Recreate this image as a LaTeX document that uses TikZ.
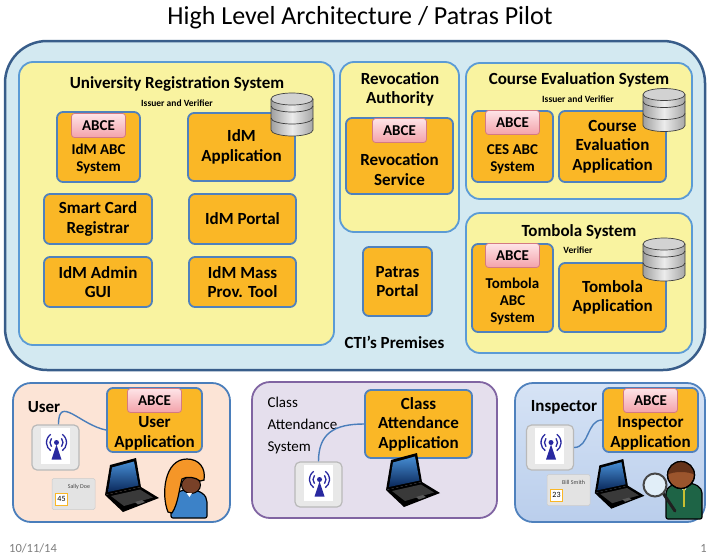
\documentclass[tikz,border=0pt]{standalone}
\usepackage{fontspec}
\setmainfont{Carlito}
\usetikzlibrary{positioning, calc}

\definecolor{ctifill}{RGB}{211,233,241}
\definecolor{ctiline}{RGB}{56,93,138}
\definecolor{sysfill}{RGB}{249,243,160}
\definecolor{sysline}{RGB}{91,155,213}
\definecolor{compfill}{RGB}{250,183,38}
\definecolor{compline}{RGB}{79,129,189}
\definecolor{abcetop}{RGB}{254,228,231}
\definecolor{abcebot}{RGB}{243,162,170}
\definecolor{abceline}{RGB}{212,122,130}
\definecolor{userfill}{RGB}{252,228,214}
\definecolor{classfill}{RGB}{229,223,237}
\definecolor{classline}{RGB}{128,100,162}
\definecolor{insptop}{RGB}{214,227,245}
\definecolor{inspbot}{RGB}{186,206,236}
\definecolor{wire}{RGB}{74,126,187}
\definecolor{signal}{RGB}{40,40,160}
\definecolor{footgray}{RGB}{125,125,125}
\definecolor{laptopsky}{RGB}{70,140,210}
\definecolor{laptopdeep}{RGB}{10,40,90}
\definecolor{hairorange}{RGB}{245,150,40}
\definecolor{skin}{RGB}{120,65,40}
\definecolor{manskin}{RGB}{155,85,45}
\definecolor{manhair}{RGB}{100,50,25}
\definecolor{suit}{RGB}{30,100,70}
\definecolor{shirtblue}{RGB}{60,130,200}
\definecolor{lens}{RGB}{225,238,248}

\tikzset{
  premises/.style={draw=ctiline, line width=2.5pt, fill=ctifill, rounded corners=42pt},
  sysbox/.style={draw=sysline, line width=1.8pt, fill=sysfill, rounded corners=14pt},
  comp/.style={draw=compline, line width=1.8pt, fill=compfill, rounded corners=6pt, inner sep=0pt,
    font=\bfseries\fontsize{17}{19.5}\selectfont, align=center},
  abctext/.style={font=\bfseries\fontsize{15}{17}\selectfont, align=center},
  abce/.style={draw=abceline, line width=0.8pt, top color=abcetop, bottom color=abcebot,
    rounded corners=3pt, minimum width=54pt, minimum height=24pt, inner sep=0pt,
    font=\bfseries\fontsize{15}{15}\selectfont, anchor=north},
  systitle/.style={font=\bfseries\fontsize{17}{19}\selectfont, align=center},
  role/.style={font=\bfseries\fontsize{9.5}{10}\selectfont},
  panel/.style={line width=1.8pt, rounded corners=18pt},
  readerbox/.style={draw=gray!55, line width=1.2pt, fill=gray!18, rounded corners=5pt,
    minimum width=47pt, minimum height=45pt},
  cardbox/.style={draw=gray!40, fill=gray!22, rounded corners=1.5pt, line width=0.5pt,
    minimum width=43pt, minimum height=31pt},
  numbox/.style={draw=compfill, fill=white, line width=0.8pt, minimum size=12pt, inner sep=0pt,
    font=\fontsize{8}{8}\selectfont},
  wirestyle/.style={draw=wire, line width=1.4pt}
}

% stack of three discs, #1 = centre of the lid
\newcommand{\dbstack}[1]{%
  \begin{scope}[shift={(#1)}]
    \path[left color=gray!75, right color=gray!70, middle color=gray!15]
      (-21,0) -- (-21,31) arc[start angle=180, end angle=0, x radius=21, y radius=6] -- (21,0) -- cycle;
    \draw[gray!45!black, line width=0.7pt] (-21,7) arc[start angle=180, end angle=0, x radius=21, y radius=6];
    \draw[gray!45!black, line width=0.7pt] (-21,19) arc[start angle=180, end angle=0, x radius=21, y radius=6];
    \draw[gray!50!black, line width=0.7pt]
      (-21,0) -- (-21,31) arc[start angle=180, end angle=0, x radius=21, y radius=6] -- (21,0);
    \draw[fill=gray!35, draw=gray!50!black, line width=0.7pt] (0,0) ellipse [x radius=21, y radius=6];
  \end{scope}}

% reader with the broadcast sign, #1 = name, #2 = centre
\newcommand{\cardreader}[2]{%
  \node[readerbox] (#1) at (#2) {};
  \fill[white] ($(#1.center)+(-15,-20)$) rectangle ($(#1.center)+(14,16)$);
  \fill[signal] ($(#1.center)+(1,-3)$) -- ($(#1.center)+(-4,12)$) -- ($(#1.center)+(6,12)$) -- cycle;
  \fill[signal] ($(#1.center)+(1,-5)$) circle (2.5);
  \draw[signal, line width=1.3pt] ($(#1.center)+(1,-5)$) ++(-140:6.5) arc[start angle=-140, end angle=-220, radius=6.5];
  \draw[signal, line width=1.3pt] ($(#1.center)+(1,-5)$) ++(-40:6.5) arc[start angle=-40, end angle=40, radius=6.5];
  \draw[signal, line width=1.3pt] ($(#1.center)+(1,-5)$) ++(-125:10) arc[start angle=-125, end angle=-235, radius=10];
  \draw[signal, line width=1.3pt] ($(#1.center)+(1,-5)$) ++(-55:10) arc[start angle=-55, end angle=55, radius=10];
}

% holder card, #1 = name, #2 = centre, #3 = holder, #4 = number
\newcommand{\holdercard}[4]{%
  \node[cardbox] (#1) at (#2) {};
  \node[font=\fontsize{6}{6}\selectfont, text=gray!55!black, anchor=north east, inner sep=0pt]
    at ($(#1.north east)+(-5,6)$) {#3};
  \node[numbox] at ($(#1.center)+(-12,5)$) {#4};
}

% laptop, #1 = scale, #2 = top left corner
\newcommand{\laptop}[2][1]{%
  \begin{scope}[shift={(#2)}, scale=#1]
    \fill[black] (3,37) -- (39,29) -- (57,40) -- (21,54) -- cycle;
    \fill[gray!45!black] (9,38) -- (38,31.5) -- (51,39.5) -- (22,48) -- cycle;
    \fill[gray!70!black] (33,44) -- (40,42) -- (43,44) -- (36,46.5) -- cycle;
    \fill[black] (8,7) -- (34,0) -- (39,29) -- (3,37) -- cycle;
    \path[top color=laptopsky, bottom color=laptopdeep] (10,9.5) -- (32,3.5) -- (36.5,27.5) -- (6,34) -- cycle;
  \end{scope}}

\begin{document}
\begin{tikzpicture}[x=1pt, y=-1pt]
\useasboundingbox (0,0) rectangle (708,557);

\node[font=\fontsize{26}{28}\selectfont] (title) at (360,18) {High Level Architecture / Patras Pilot};

% CTI's premises
\node[premises, minimum width=700pt, minimum height=329pt] (cti) at (355,205.5) {};
\node[systitle] (ctilabel) at (394.5,342) {CTI’s Premises};

% university registration system
\node[sysbox, minimum width=315pt, minimum height=283pt] (urs) at (176.5,203.5) {};
\node[systitle] (urstitle) at (177,84) {University Registration System};
\node[role] (ursrole) at (177,103) {Issuer and Verifier};
\node[comp, minimum width=83pt, minimum height=70pt] (idmabc) at (98.5,147) {};
\node[abce] (idmabce) at ([yshift=-2pt]idmabc.north) {ABCE};
\node[abctext] (idmabctxt) at ([yshift=-11.5pt]idmabc.center) {IdM ABC\\System};
\node[comp, minimum width=107pt, minimum height=68pt] (idmapp) at (241.5,147) {IdM\\Application};
\dbstack{292,99}
\node[comp, minimum width=108pt, minimum height=50pt] (scr) at (98,219) {Smart Card\\Registrar};
\node[comp, minimum width=107pt, minimum height=50pt] (idmportal) at (242.5,219) {IdM Portal};
\node[comp, minimum width=108pt, minimum height=50pt] (idmadmin) at (98,282) {IdM Admin\\GUI};
\node[comp, minimum width=107pt, minimum height=50pt] (idmmass) at (242.5,282) {IdM Mass\\Prov. Tool};

% revocation authority
\node[sysbox, minimum width=119pt, minimum height=170pt] (ra) at (399.5,147) {};
\node[systitle] (ratitle) at (400,89.5) {Revocation\\Authority};
\node[comp, minimum width=107pt, minimum height=76pt] (revserv) at (399.5,156) {};
\node[abce] (revabce) at ([yshift=-1pt]revserv.north) {ABCE};
\node[comp, draw=none, fill=none] (revtxt) at ([yshift=-13.5pt]revserv.center) {Revocation\\Service};

\node[comp, minimum width=69pt, minimum height=69pt] (patras) at (397.5,281.5) {Patras\\Portal};

% course evaluation system
\node[sysbox, minimum width=226pt, minimum height=136pt] (ces) at (579,131) {};
\node[systitle] (cestitle) at (579,80) {Course Evaluation System};
\node[role] (cesrole) at (578,99) {Issuer and Verifier};
\node[comp, minimum width=81pt, minimum height=71pt] (cesabc) at (512.5,146.5) {};
\node[abce] (cesabce) at (cesabc.north) {ABCE};
\node[abctext] (cesabctxt) at ([yshift=-13pt]cesabc.center) {CES ABC\\System};
\node[comp, minimum width=107pt, minimum height=71pt] (cesapp) at (612.5,146.5) {Course\\Evaluation\\Application};
\dbstack{664,94.5}

% tombola system
\node[sysbox, minimum width=226pt, minimum height=140pt] (ts) at (579,283) {};
\node[systitle] (tstitle) at (579,232) {Tombola System};
\node[role] (tsrole) at (578,250) {Verifier};
\node[comp, minimum width=81pt, minimum height=88pt] (tomabc) at (512.5,288) {};
\node[abce] (tomabce) at (tomabc.north) {ABCE};
\node[abctext] (tomabctxt) at ([yshift=-13.5pt]tomabc.center) {Tombola\\ABC\\System};
\node[comp, minimum width=107pt, minimum height=69pt] (tomapp) at (612.5,297.5) {Tombola\\Application};
\dbstack{664,244}

% user side
\node[panel, draw=wire, fill=userfill, minimum width=217pt, minimum height=139pt] (userpanel) at (121.5,452.5) {};
\node[systitle] (userlabel) at (44,407) {User};
\node[comp, minimum width=95pt, minimum height=64pt] (userapp) at (154.5,420) {};
\node[abce] (userabce) at ([yshift=-1pt]userapp.north) {ABCE};
\node[comp, draw=none, fill=none] (useratxt) at ([yshift=-13.5pt]userapp.center) {User\\Application};
\cardreader{ureader}{55.5,447.5}
\draw[wirestyle] ([xshift=3pt]ureader.north) .. controls +(0,-30) and +(-26,-5) .. ([yshift=-10pt]userapp.west);
\holdercard{ucard}{73.5,494}{Sally Doe}{45}
\laptop{102,458}
% the student
\begin{scope}[shift={(150,450)}]
  \filldraw[fill=shirtblue, draw=black, line width=1.2pt, rounded corners=2pt]
    (21,68) -- (21,54) .. controls (21,45) and (29,40) .. (39,40) .. controls (50,40) and (57,45) .. (57,54) -- (57,68) -- cycle;
  \filldraw[fill=skin, draw=black, line width=1pt] (41,35) ellipse [x radius=9.5, y radius=8.5];
  \filldraw[fill=hairorange, draw=black, line width=1.2pt]
    (18,62) .. controls (11,45) and (14,9) .. (37,9) .. controls (49,9) and (56,18) .. (54,30) -- (50,31)
    .. controls (46,27) and (36,26) .. (32,29) .. controls (29,40) and (28,54) .. (22,63) -- cycle;
  \fill[white] (36.5,43) -- (42,43) -- (39.5,47) -- cycle;
\end{scope}

% class attendance system
\node[panel, draw=classline, fill=classfill, minimum width=245pt, minimum height=136pt] (classpanel) at (374.5,450) {};
\node[anchor=west, align=left, font=\fontsize{15}{22}\selectfont] (classlabel) at (264,425) {Class\\Attendance\\System};
\node[comp, minimum width=107pt, minimum height=68pt] (cattapp) at (418.5,424) {Class\\Attendance\\Application};
\cardreader{creader}{318.5,484.5}
\draw[wirestyle] (creader.north) .. controls +(0,-28) and +(-30,0) .. (cattapp.west);
\laptop{383,453}

% inspector side
\node[panel, draw=compline, top color=insptop, bottom color=inspbot, minimum width=190pt, minimum height=139pt] (insppanel) at (610,452.5) {};
\node[systitle] (insplabel) at (564,407) {Inspector};
\node[comp, minimum width=95pt, minimum height=64pt] (inspapp) at (650.5,420) {};
\node[abce] (inspabce) at ([yshift=-1pt]inspapp.north) {ABCE};
\node[comp, draw=none, fill=none] (inspatxt) at ([yshift=-13.5pt]inspapp.center) {Inspector\\Application};
\cardreader{ireader}{550,447.5}
\draw[wirestyle] (ireader.east) to[out=0, in=180] (inspapp.west);
\holdercard{icard}{568.5,490}{Bill Smith}{23}
\laptop[0.92]{592,459}
% the inspector
\begin{scope}[shift={(630,455)}]
  \filldraw[fill=suit, draw=black, line width=1.2pt, rounded corners=2pt]
    (36,64) -- (36,40) .. controls (36,32) and (44,28) .. (54,28) .. controls (65,28) and (72,32) .. (72,40) -- (72,64) -- cycle;
  \fill[white] (49,29) -- (59,29) -- (54,37) -- cycle;
  \draw[yellow!75!black, line width=1.6pt] (54,31) -- (54,52);
  \filldraw[fill=manskin, draw=black, line width=1.2pt] (51,20) circle (13.5);
  \fill[manhair] (64.5,20) arc[start angle=0, end angle=-180, radius=13.5] .. controls (42,16) and (60,16) .. cycle;
  \draw[black, line width=1.2pt] (51,20) circle (13.5);
  \draw[gray!25!black, line width=3pt, line cap=round] (33,38) -- (45,56);
  \filldraw[fill=lens, draw=gray!55!black, line width=2pt] (25,30) circle (11.5);
\end{scope}

\node[font=\fontsize{12.5}{13}\selectfont, text=footgray] (date) at (33,548) {10/11/14};
\node[font=\fontsize{12.5}{13}\selectfont, text=footgray, anchor=east, inner sep=1pt] (page) at (708,548) {1};
\end{tikzpicture}
\end{document}
